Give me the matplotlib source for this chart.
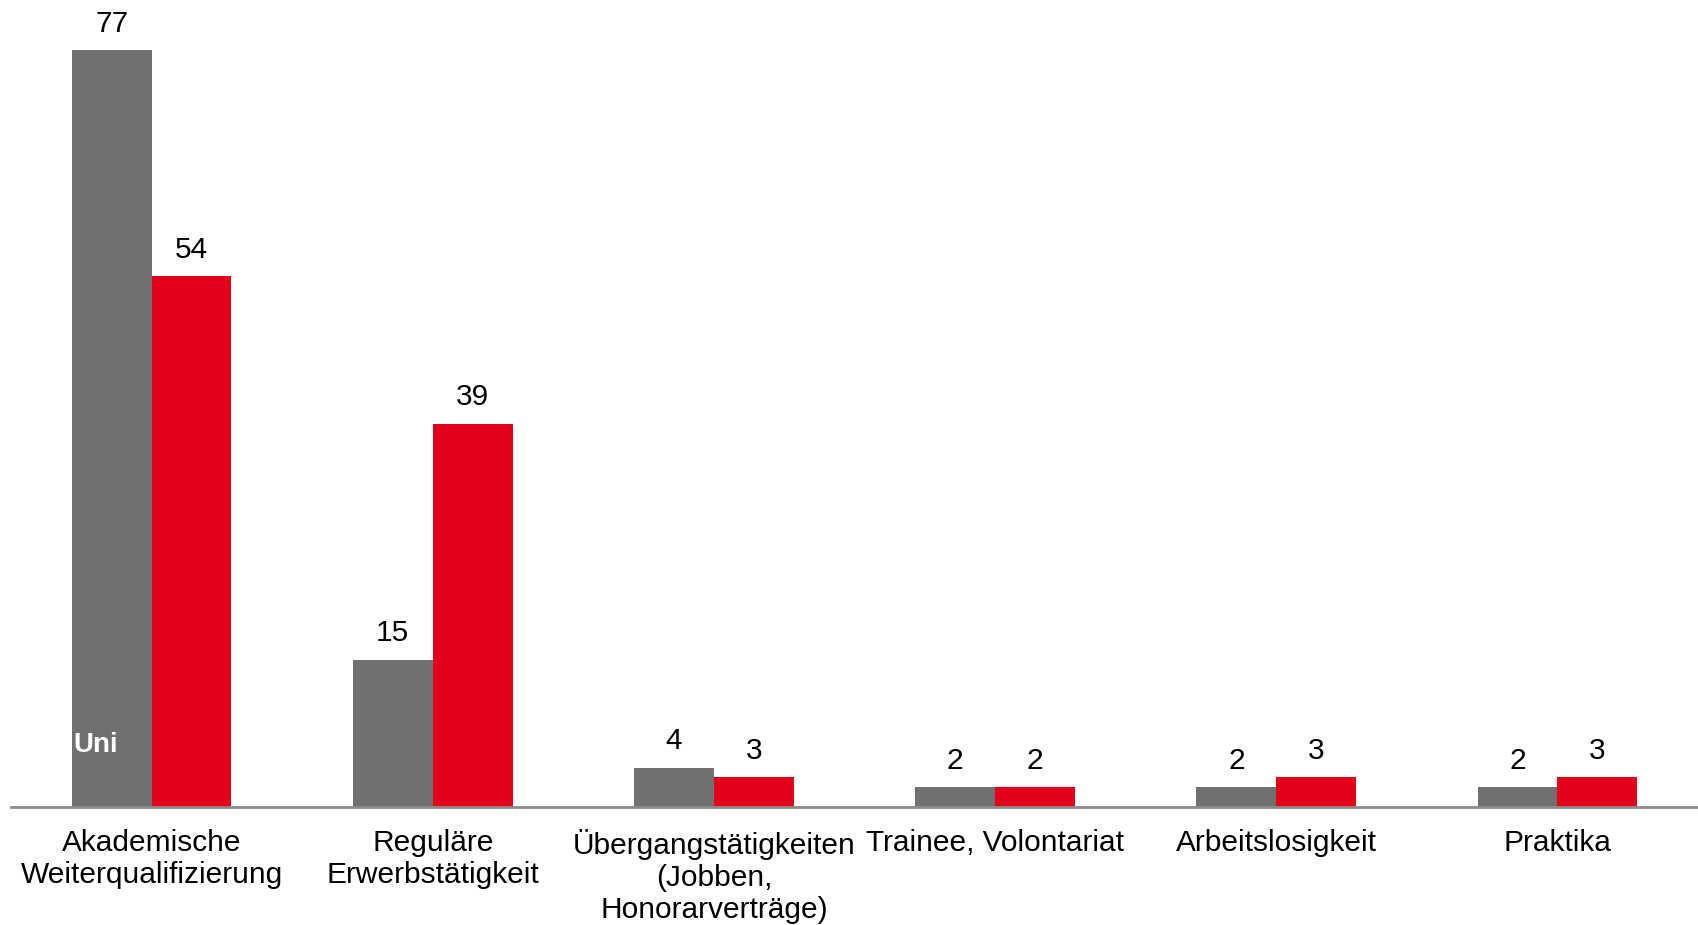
import numpy as np
import matplotlib.pyplot as plt

plt.rcParams['font.family'] = ['Liberation Sans', 'DejaVu Sans']

kategorien = ['Akademische\nWeiterqualifizierung', 'Reguläre\nErwerbstätigkeit',
              'Übergangstätigkeiten\n(Jobben,\nHonorarverträge)', 'Trainee, Volontariat',
              'Arbeitslosigkeit', 'Praktika']
uni = [77, 15, 4, 2, 2, 2]
fh = [54, 39, 3, 2, 3, 3]

grau = '#707070'
rot = '#E2001A'

fig = plt.figure(figsize=(16.98, 9.25), dpi=100)
ax = fig.add_axes([0.0065, 0.1276, 0.9935, 0.85])

x = np.arange(len(kategorien))
b = 0.284
balken_uni = ax.bar(x - b / 2, uni, b, color=grau)
balken_fh = ax.bar(x + b / 2, fh, b, color=rot)

for balken in (balken_uni, balken_fh):
    ax.bar_label(balken, padding=9, fontsize=21.5, color='black')

ax.text(-0.277, 6.3, 'Uni', color='white', fontsize=20, fontweight='bold',
        ha='left', va='center')

ax.set_xlim(-0.5, 5.5)
ax.set_ylim(0, 80)
for s in ['top', 'right', 'left']:
    ax.spines[s].set_visible(False)
ax.spines['bottom'].set_color('#8c8c8c')
ax.spines['bottom'].set_linewidth(2)
ax.set_yticks([])
ax.set_xticks(x)
ax.set_xticklabels(kategorien, fontsize=21.5, linespacing=1.17)
ax.tick_params(axis='x', length=0, pad=16)

fig.savefig('out.png', dpi=100)
